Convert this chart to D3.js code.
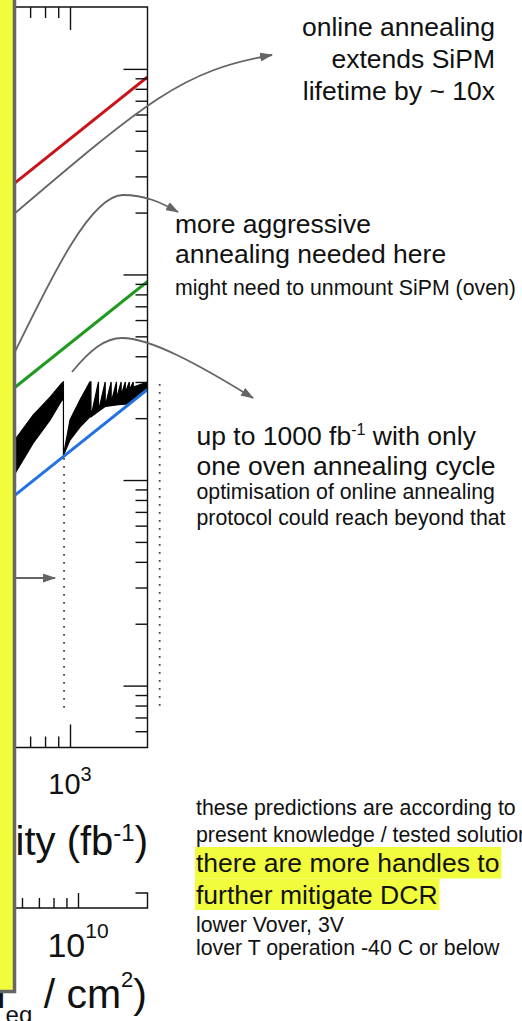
<!DOCTYPE html>
<html>
<head>
<meta charset="utf-8">
<script src="https://cdn.jsdelivr.net/npm/d3@7"></script>
<style>
  html, body { margin: 0; padding: 0; background: #fff; overflow: hidden; }
  svg { display: block; font-family: "Liberation Sans", Arial, sans-serif; }
</style>
</head>
<body>
<div id="chart"></div>
<script>
// integrated luminosity (fb^-1) at the ends of the straight DCR lines
const lumiRange = [500, 2000];
const dcrNoAnneal = [228, 914];        // red
const dcrOnlineAnneal = [23.1, 92.5];  // green
const dcrFullAnneal = [6.9, 27.6];     // blue

// black sawtooth band (online annealing cycles): upper / lower envelope
const sawLumi  = [600, 623, 719, 837, 931, 943, 943, 1000, 1093, 1195, 1206, 1206, 1290, 1290, 1370, 1370, 1445, 1445, 1515, 1515, 1580, 1580, 1640, 1640, 1700, 1700, 1760, 1760, 2000];
const sawUpper = [15.2, 16.2, 20.7, 25.3, 29.7, 30, 13.2, 19.6, 24.5, 30, 30, 20.3, 30, 21.6, 30, 22.8, 30, 23.8, 30, 24.8, 30, 25.8, 30, 26.6, 30, 27.4, 30, 28.3, 30];
const sawLower = [10.3, 11.2, 15.1, 19.6, 24.5, 24.5, 13.2, 15.65, 18.1, 20.3, 20.3, 20.3, 21.6, 21.6, 22.8, 22.8, 23.0, 23.0, 23.2, 23.2, 23.3, 23.3, 23.4, 23.4, 23.6, 23.6, 24.3, 24.3, 27.6];

// dotted vertical markers (oven annealing)
const markerLumi = [948, 2230];
const markerTop = [13.1, 30];
const markerBottom = [0.745, 0.745];

// ticks
const lumiMinorTicks = [600, 700, 800, 900];
const lumiMajorTicks = [1000];
const dcrMajorTicks = [1, 10, 100, 1000];
const dcrMinorTicks = [0.6, 0.7, 0.8, 0.9, 2, 3, 4, 5, 6, 7, 8, 9, 20, 30, 40, 50, 60, 70, 80, 90, 200, 300, 400, 500, 600, 700, 800, 900];
const fluenceMinorTicks = [6e9, 7e9, 8e9, 9e9];
const fluenceMajorTicks = [1e10];

const width = 522, height = 1021;
const svg = d3.select('#chart').append('svg')
  .attr('width', width)
  .attr('height', height);

// plot frame, its left side is under the yellow box
const frame = { left: 0, right: 147.5, top: 7, bottom: 747.5 };

const x = d3.scaleLog().domain([1000, 2000]).range([70, frame.right]);
const y = d3.scaleLog().domain([0.5, 2000]).range([frame.bottom, frame.top]);
const xFluence = d3.scaleLog().domain([1e10, 2e10]).range([78, 154]);

svg.append('clipPath').attr('id', 'plot-clip')
  .append('rect')
  .attr('x', frame.left).attr('y', frame.top)
  .attr('width', frame.right - frame.left)
  .attr('height', frame.bottom - frame.top);

const plot = svg.append('g').attr('clip-path', 'url(#plot-clip)');

// black band
const band = d3.area()
  .x(d => x(d.l))
  .y0(d => y(d.lo))
  .y1(d => y(d.hi));

plot.append('path')
  .datum(sawLumi.map((l, i) => ({ l, hi: sawUpper[i], lo: sawLower[i] })))
  .attr('fill', '#000')
  .attr('stroke', '#000')
  .attr('stroke-width', 1.2)
  .attr('d', band);

// straight lines
const line = d3.line().x(d => x(d[0])).y(d => y(d[1]));
const series = [
  { values: dcrNoAnneal, color: '#c8141a' },
  { values: dcrOnlineAnneal, color: '#1e9a1e' },
  { values: dcrFullAnneal, color: '#2272e2' }
];
series.forEach(s => {
  plot.append('path')
    .datum(lumiRange.map((l, i) => [l, s.values[i]]))
    .attr('fill', 'none')
    .attr('stroke', s.color)
    .attr('stroke-width', 3)
    .attr('d', line);
});

// dotted markers
markerLumi.forEach((l, i) => {
  svg.append('line')
    .attr('x1', x(l)).attr('x2', x(l))
    .attr('y1', y(markerTop[i]) + 2).attr('y2', y(markerBottom[i]))
    .attr('stroke', '#444')
    .attr('stroke-width', 1.8)
    .attr('stroke-dasharray', '1.8,6.2');
});

// axes ticks
function ticks(axis, values, size, transform) {
  const g = svg.append('g')
    .attr('transform', transform)
    .call(axis.tickValues(values).tickSize(size).tickSizeOuter(0).tickFormat(() => ''));
  g.select('.domain').remove();
  g.selectAll('line').attr('stroke', '#111').attr('stroke-width', 1.4);
  return g;
}

ticks(d3.axisTop(x), lumiMinorTicks, -11, `translate(0,${frame.top})`);
ticks(d3.axisTop(x), lumiMajorTicks, -23, `translate(0,${frame.top})`);
ticks(d3.axisBottom(x), lumiMinorTicks, -11, `translate(0,${frame.bottom})`);
ticks(d3.axisBottom(x), lumiMajorTicks, -23, `translate(0,${frame.bottom})`);
ticks(d3.axisLeft(y), dcrMinorTicks, 12, `translate(${frame.right},0)`);
ticks(d3.axisLeft(y), dcrMajorTicks, 24, `translate(${frame.right},0)`);

// frame
svg.append('path')
  .attr('d', `M${frame.left},${frame.top}H${frame.right}V${frame.bottom}H${frame.left}`)
  .attr('fill', 'none')
  .attr('stroke', '#111')
  .attr('stroke-width', 1.4);

// fluence axis
const fluenceY = 908;
ticks(d3.axisBottom(xFluence), fluenceMinorTicks, -10, `translate(0,${fluenceY})`);
ticks(d3.axisBottom(xFluence), fluenceMajorTicks, -15, `translate(0,${fluenceY})`);
svg.append('path')
  .attr('d', `M0,${fluenceY}H${frame.right}V${fluenceY - 15}H${frame.right - 12}`)
  .attr('fill', 'none')
  .attr('stroke', '#111')
  .attr('stroke-width', 1.4);

// axis labels
function rich(xPos, yPos, anchor, parts) {
  const t = svg.append('text')
    .attr('x', xPos).attr('y', yPos)
    .attr('text-anchor', anchor)
    .attr('fill', '#111');
  parts.forEach(p => {
    t.append('tspan')
      .attr('font-size', p.size)
      .attr('dy', p.dy || 0)
      .attr('dx', p.dx || 0)
      .text(p.t);
  });
  return t;
}

rich(x(1000), 794, 'middle', [{ t: '10', size: 29 }, { t: '3', size: 20, dy: -13 }]);
rich(148, 855, 'end', [
  { t: 'integrated luminosity (fb', size: 40 },
  { t: '-1', size: 24, dy: -14 },
  { t: ')', size: 40, dy: 14 }
]);
rich(xFluence(1e10), 957, 'middle', [{ t: '10', size: 34 }, { t: '10', size: 21, dy: -19 }]);
rich(147, 1008, 'end', [
  { t: 'fluence (1 MeV n', size: 41 },
  { t: 'eq', size: 24, dy: 15 },
  { t: ' / cm', size: 41, dy: -15 },
  { t: '2', size: 22, dy: -21 },
  { t: ')', size: 41, dy: 21 }
]);

// annotation arrows
const gray = '#646464';
svg.append('defs').append('marker')
  .attr('id', 'head')
  .attr('viewBox', '0 0 13 9')
  .attr('refX', 12).attr('refY', 4.5)
  .attr('markerWidth', 13).attr('markerHeight', 9)
  .attr('markerUnits', 'userSpaceOnUse')
  .attr('orient', 'auto')
  .append('path')
  .attr('d', 'M0,0L13,4.5L0,9Z')
  .attr('fill', gray);

const arrows = [
  'M0,226C150,98 182,71 272,55',
  'M10,362C50,280 90,195 123,195C145,195 160,202 178,212',
  'M72,372C90,350 105,338 122,338C150,338 198,364 253,398',
  'M0,578L55,578'
];
arrows.forEach(d => {
  svg.append('path')
    .attr('d', d)
    .attr('fill', 'none')
    .attr('stroke', gray)
    .attr('stroke-width', 1.8)
    .attr('marker-end', 'url(#head)');
});

// slide texts
const big = 26.5, small = 21.3;
function block(xPos, anchor, lines) {
  return lines.map(l => rich(xPos, l.y, anchor, l.parts || [{ t: l.t, size: l.size }]));
}

block(495, 'end', [
  { t: 'online annealing', size: big, y: 35.5 },
  { t: 'extends SiPM', size: big, y: 68 },
  { t: 'lifetime by ~ 10x', size: big, y: 100 }
]);

block(175, 'start', [
  { t: 'more aggressive', size: big, y: 233 },
  { t: 'annealing needed here', size: big, y: 263 },
  { t: 'might need to unmount SiPM (oven)', size: small, y: 295 }
]);

block(196.5, 'start', [
  { y: 445, parts: [
    { t: 'up to 1000 fb', size: big },
    { t: '-1', size: 16, dy: -10 },
    { t: ' with only', size: big, dy: 10 }
  ] },
  { t: 'one oven annealing cycle', size: big, y: 475 },
  { t: 'optimisation of online annealing', size: small, y: 499 },
  { t: 'protocol could reach beyond that', size: small, y: 525 }
]);

const yellow = '#f1fd3c';
const hl = svg.append('g');
block(196, 'start', [
  { t: 'these predictions are according to', size: small, y: 815 },
  { t: 'present knowledge / tested solutions', size: small, y: 842 }
]);
const hlLines = block(196, 'start', [
  { t: 'there are more handles to', size: big, y: 872 },
  { t: 'further mitigate DCR', size: big, y: 903.5 }
]);
hlLines.forEach(t => {
  const w = t.node().getComputedTextLength();
  hl.append('rect')
    .attr('x', 195).attr('y', +t.attr('y') - 25)
    .attr('width', w + 3).attr('height', 31.5)
    .attr('fill', yellow);
});
block(196, 'start', [
  { t: 'lower Vover, 3V', size: small, y: 932 },
  { t: 'lover T operation -40 C or below', size: small, y: 955 }
]);

// yellow box covering the left of the slide
svg.append('rect')
  .attr('x', -10).attr('y', -10)
  .attr('width', 24.5).attr('height', 1001.5)
  .attr('fill', yellow)
  .attr('stroke', '#666')
  .attr('stroke-width', 3.5);
</script>
</body>
</html>
